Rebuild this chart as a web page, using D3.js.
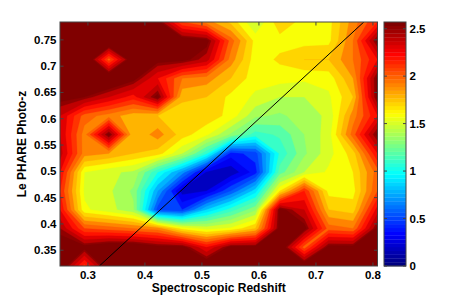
<!DOCTYPE html>
<html>
<head>
<meta charset="utf-8">
<script src="https://cdn.jsdelivr.net/npm/d3@7"></script>
<style>
  body { margin: 0; background: #fff; }
  text { font-family: "Liberation Sans", Arial, sans-serif; font-weight: bold; fill: #000; }
</style>
</head>
<body>
<script>
// grid centres (spectroscopic z along x, photo-z along y)
var xCenters = [0.251, 0.294, 0.337, 0.380, 0.423, 0.466, 0.508, 0.551, 0.594, 0.637, 0.680, 0.723, 0.765, 0.808];
var yCenters = [0.320, 0.355, 0.391, 0.427, 0.463, 0.498, 0.534, 0.570, 0.605, 0.641, 0.677, 0.713, 0.748, 0.784];

// z values, first row = lowest photo-z
var zRows = [
  [2.70, 2.15, 2.70, 2.70, 2.70, 2.70, 2.70, 2.70, 2.70, 2.70, 2.70, 2.70, 2.70, 2.70],
  [2.65, 2.60, 2.70, 2.70, 2.60, 2.60, 2.30, 2.60, 2.60, 2.70, 2.05, 2.60, 2.60, 2.70],
  [2.50, 2.10, 2.05, 2.00, 1.95, 1.66, 1.56, 1.62, 1.80, 2.60, 2.60, 2.05, 2.00, 2.60],
  [2.30, 1.62, 1.54, 1.42, 0.55, 0.50, 0.90, 1.15, 1.38, 2.60, 2.40, 1.80, 1.75, 2.35],
  [2.20, 1.58, 1.52, 1.38, 0.80, 0.25, 0.30, 0.60, 0.95, 1.70, 2.20, 1.66, 1.66, 2.10],
  [2.30, 1.60, 1.52, 1.48, 1.10, 0.75, 0.28, 0.22, 0.45, 1.25, 1.50, 1.62, 1.70, 2.05],
  [2.45, 1.95, 1.90, 1.80, 1.75, 1.50, 1.12, 0.45, 0.55, 1.12, 1.38, 1.56, 1.75, 2.30],
  [2.40, 1.95, 2.60, 1.80, 1.95, 1.75, 1.62, 1.38, 1.15, 1.22, 1.40, 1.55, 2.05, 2.60],
  [2.40, 2.05, 1.95, 1.84, 1.80, 1.75, 1.77, 1.66, 1.42, 1.38, 1.45, 1.52, 1.95, 2.30],
  [2.60, 2.55, 2.40, 2.25, 2.60, 1.82, 1.80, 1.67, 1.58, 1.50, 1.50, 1.58, 1.80, 2.60],
  [2.80, 2.80, 2.75, 2.60, 2.30, 2.00, 1.95, 1.80, 1.64, 1.64, 1.62, 1.64, 1.90, 2.60],
  [2.80, 2.80, 2.05, 2.70, 2.60, 2.60, 2.45, 1.95, 1.64, 1.72, 1.80, 1.80, 2.00, 2.30],
  [2.80, 2.80, 2.80, 2.80, 2.80, 2.65, 2.60, 2.05, 1.66, 1.66, 1.66, 1.67, 2.00, 2.60],
  [2.80, 2.80, 2.80, 2.80, 2.60, 2.10, 1.95, 1.77, 1.50, 1.77, 1.66, 1.66, 1.95, 2.20]
];

var levels = [0, 0.1, 0.2, 0.3, 0.4, 0.5, 0.6, 0.7, 0.8, 0.9, 1.0, 1.1, 1.2,
              1.3, 1.4, 1.5, 1.6, 1.7, 1.8, 1.9, 2.0, 2.1, 2.2, 2.3, 2.4, 2.5, 2.55];

var xTicks = [0.3, 0.4, 0.5, 0.6, 0.7, 0.8];
var yTicks = [0.35, 0.4, 0.45, 0.5, 0.55, 0.6, 0.65, 0.7, 0.75];
var cbarTicks = [0, 0.5, 1, 1.5, 2, 2.5];
var cmin = 0, cmax = 2.57;

var width = 463, height = 300;
var plot = {left: 60, top: 22, right: 377.5, bottom: 266};
var cbar = {left: 384, right: 406, top: 22, bottom: 266};

var svg = d3.select("body").append("svg")
    .attr("width", width)
    .attr("height", height);

var xScale = d3.scaleLinear().domain([xCenters[0], xCenters[xCenters.length - 1]]).range([plot.left, plot.right]);
var yScale = d3.scaleLinear().domain([yCenters[0], yCenters[yCenters.length - 1]]).range([plot.bottom, plot.top]);

// jet colormap, 64 entries like matlab
function jet(v) {
    function c(a) { return Math.max(0, Math.min(1, a)) * 255; }
    return d3.rgb(c(1.5 - Math.abs(4 * v - 3)), c(1.5 - Math.abs(4 * v - 2)), c(1.5 - Math.abs(4 * v - 1)));
}
function levelColor(t) {
    var k = Math.floor((t - cmin) / (cmax - cmin) * 64) + 1;
    k = Math.max(1, Math.min(64, k));
    return jet((k - 1) / 63);
}

// contour bands
var nx = xCenters.length, ny = yCenters.length;
var values = [];
zRows.forEach(function(row) { row.forEach(function(v) { values.push(v); }); });

var gx = d3.scaleLinear().domain([0.5, nx - 0.5]).range([xScale(xCenters[0]), xScale(xCenters[nx - 1])]);
var gy = d3.scaleLinear().domain([0.5, ny - 0.5]).range([yScale(yCenters[0]), yScale(yCenters[ny - 1])]);

var contours = d3.contours().size([nx, ny]).thresholds(levels)(values);
var path = d3.geoPath(d3.geoTransform({
    point: function(x, y) { this.stream.point(gx(x), gy(y)); }
}));

svg.append("clipPath").attr("id", "plotclip")
  .append("rect")
    .attr("x", plot.left).attr("y", plot.top)
    .attr("width", plot.right - plot.left).attr("height", plot.bottom - plot.top);

var g = svg.append("g").attr("clip-path", "url(#plotclip)");

g.selectAll("path.band")
    .data(contours)
    .enter().append("path")
    .attr("class", "band")
    .attr("d", path)
    .attr("fill", function(d) { return levelColor(d.value); })
    .attr("stroke", function(d) { return levelColor(d.value); })
    .attr("stroke-width", 0.3);

// one-to-one line
g.append("line")
    .attr("x1", xScale(yCenters[0])).attr("y1", yScale(yCenters[0]))
    .attr("x2", xScale(yCenters[ny - 1])).attr("y2", yScale(yCenters[ny - 1]))
    .attr("stroke", "#000")
    .attr("stroke-width", 1);

// axes box + inward ticks
var tickLen = 3.5;
svg.append("rect")
    .attr("x", plot.left).attr("y", plot.top)
    .attr("width", plot.right - plot.left).attr("height", plot.bottom - plot.top)
    .attr("fill", "none").attr("stroke", "#444").attr("stroke-width", 1);

xTicks.forEach(function(t) {
    var x = xScale(t);
    svg.append("line").attr("x1", x).attr("x2", x).attr("y1", plot.bottom).attr("y2", plot.bottom - tickLen).attr("stroke", "#444");
    svg.append("line").attr("x1", x).attr("x2", x).attr("y1", plot.top).attr("y2", plot.top + tickLen).attr("stroke", "#444");
    svg.append("text").attr("x", x).attr("y", plot.bottom + 12.8)
        .attr("text-anchor", "middle").style("font-size", "11.5px").text(t);
});
yTicks.forEach(function(t) {
    var y = yScale(t);
    svg.append("line").attr("x1", plot.left).attr("x2", plot.left + tickLen).attr("y1", y).attr("y2", y).attr("stroke", "#444");
    svg.append("line").attr("x1", plot.right).attr("x2", plot.right - tickLen).attr("y1", y).attr("y2", y).attr("stroke", "#444");
    svg.append("text").attr("x", plot.left - 3.5).attr("y", y + 4)
        .attr("text-anchor", "end").style("font-size", "11.5px").text(t);
});

svg.append("text")
    .attr("x", (plot.left + plot.right) / 2).attr("y", 292)
    .attr("text-anchor", "middle").style("font-size", "12px")
    .text("Spectroscopic Redshift");

svg.append("text")
    .attr("transform", "translate(26," + ((plot.top + plot.bottom) / 2) + ") rotate(-90)")
    .attr("text-anchor", "middle").style("font-size", "12px")
    .text("Le PHARE Photo-z");

// colorbar
var cScale = d3.scaleLinear().domain([cmin, cmax]).range([cbar.bottom, cbar.top]);
var cells = d3.range(64);
svg.append("g").selectAll("rect")
    .data(cells)
    .enter().append("rect")
    .attr("x", cbar.left)
    .attr("width", cbar.right - cbar.left)
    .attr("y", function(k) { return cScale(cmin + (k + 1) / 64 * (cmax - cmin)); })
    .attr("height", function(k) { return cScale(cmin + k / 64 * (cmax - cmin)) - cScale(cmin + (k + 1) / 64 * (cmax - cmin)) + 0.3; })
    .attr("fill", function(k) { return jet(k / 63); });

svg.append("rect")
    .attr("x", cbar.left).attr("y", cbar.top)
    .attr("width", cbar.right - cbar.left).attr("height", cbar.bottom - cbar.top)
    .attr("fill", "none").attr("stroke", "#444").attr("stroke-width", 1);

cbarTicks.forEach(function(t) {
    var y = cScale(t);
    svg.append("line").attr("x1", cbar.left).attr("x2", cbar.left + 3).attr("y1", y).attr("y2", y).attr("stroke", "#444");
    svg.append("line").attr("x1", cbar.right).attr("x2", cbar.right - 3).attr("y1", y).attr("y2", y).attr("stroke", "#444");
    svg.append("text").attr("x", cbar.right + 3.5).attr("y", y + 4)
        .attr("text-anchor", "start").style("font-size", "11.5px").text(t);
});
</script>
</body>
</html>
